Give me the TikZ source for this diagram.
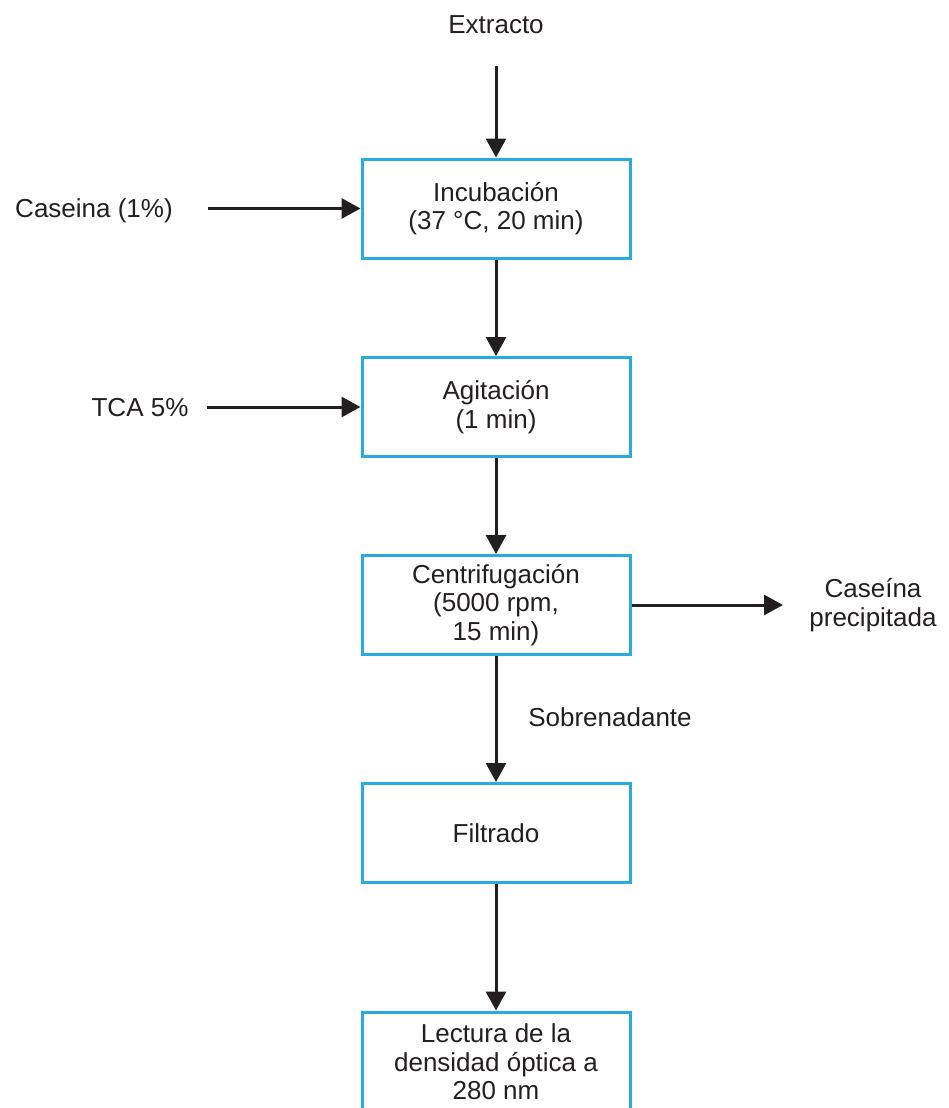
\documentclass[tikz,border=0pt]{standalone}
\usepackage{fontspec}
\setmainfont{Liberation Sans}
\usetikzlibrary{arrows.meta}
\definecolor{boxblue}{HTML}{29ABE2}
\definecolor{ink}{HTML}{231F20}
\begin{document}
\begin{tikzpicture}[x=1pt,y=-1pt,
  txt/.style={text=ink,align=center,font=\fontsize{26}{28.5}\selectfont},
  stage/.style={txt,draw=boxblue,line width=3pt,minimum width=268pt,
    minimum height=99pt,inner sep=0pt},
  lbl/.style={txt,inner sep=0pt},
  flow/.style={draw=ink,line width=3pt,-{Triangle[length=19pt,width=20pt]}}]
\useasboundingbox (0,0) rectangle (948,1108);
\clip (0,0) rectangle (948,1108);

% process stages
\node[stage] (inc) at (496,208.5) {Incubación\\(37 °C, 20 min)};
\node[stage] (agi) at (496,407) {Agitación\\(1 min)};
\node[stage] (cen) at (496,605) {Centrifugación\\(5000 rpm,\\15 min)};
\node[stage] (fil) at (496,833) {Filtrado};
\node[stage,minimum height=100pt] (lec) at (496,1062) {Lectura de la\\densidad óptica a\\280 nm};

% inputs and outputs
\node[lbl] (ext) at (496,25) {Extracto};
\node[lbl] (cas) at (94,211) {Caseina (1\%)};
\node[lbl] (tca) at (140,408) {TCA 5\%};
\node[lbl] (pre) at (873,605) {Caseína\\precipitada};
\node[lbl] (sob) at (610,717) {Sobrenadante};

% free ends of the connectors
\coordinate (ext-out) at (496,66);
\coordinate (cas-out) at (208,208.5);
\coordinate (tca-out) at (207,407);
\coordinate (pre-in) at (783,605);

% flow
\draw[flow] (ext-out) -- (inc.north);
\draw[flow] (cas-out) -- (inc.west);
\draw[flow] (inc.south) -- (agi.north);
\draw[flow] (tca-out) -- (agi.west);
\draw[flow] (agi.south) -- (cen.north);
\draw[flow] (cen.east) -- (pre-in);
\draw[flow] (cen.south) -- (fil.north);
\draw[flow] (fil.south) -- (lec.north);
\end{tikzpicture}
\end{document}
